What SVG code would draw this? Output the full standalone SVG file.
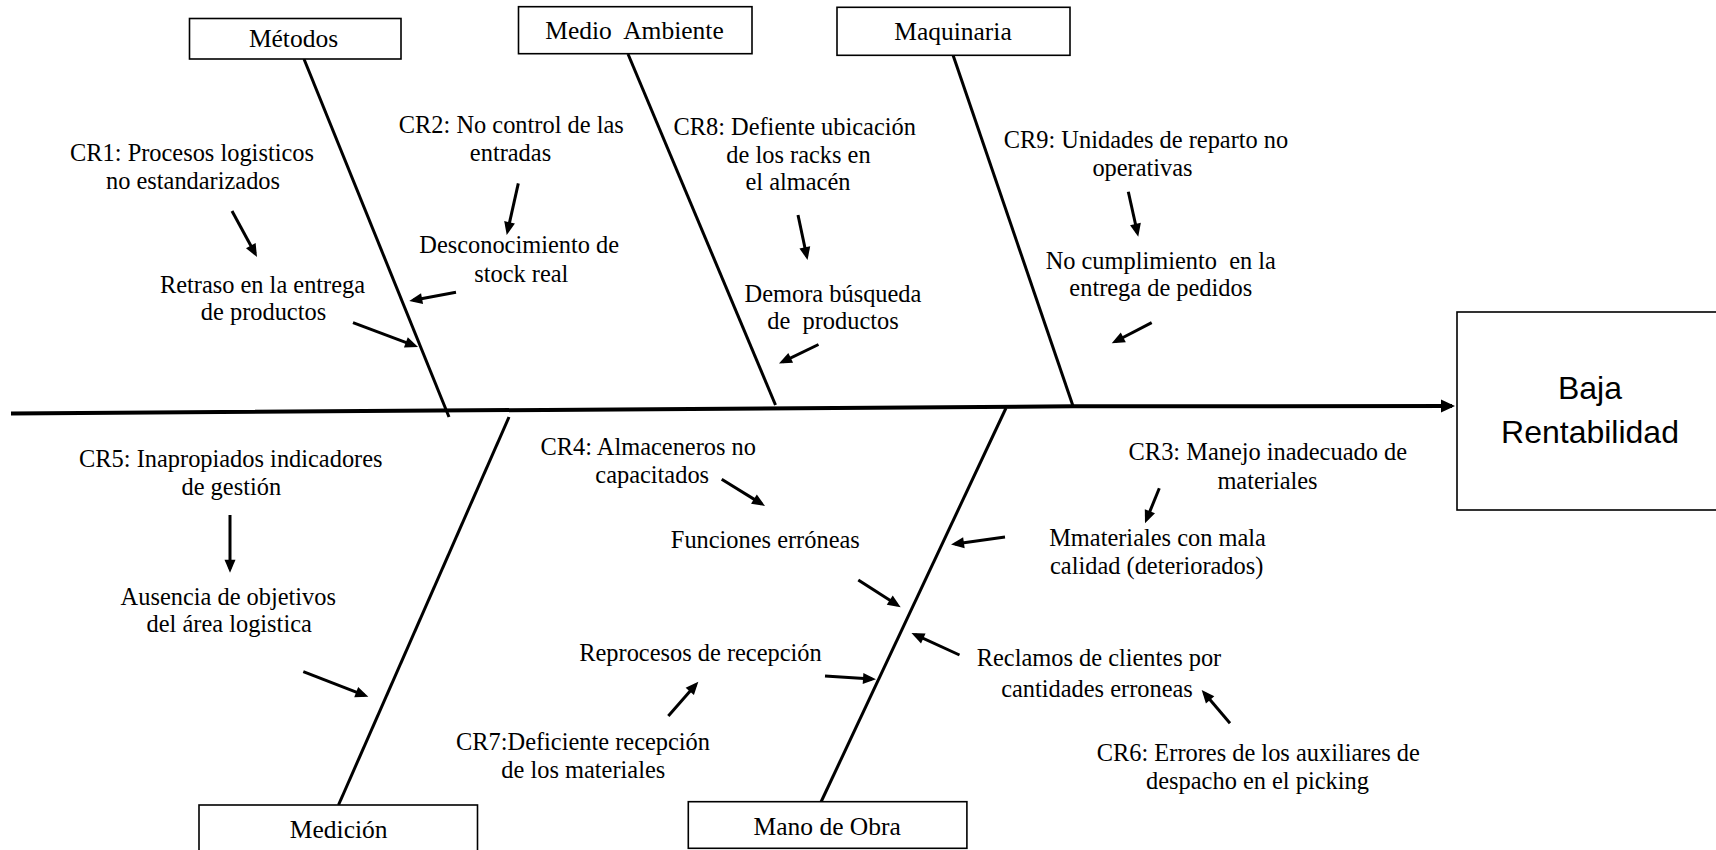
<svg xmlns="http://www.w3.org/2000/svg" width="1716" height="850" viewBox="0 0 1716 850">
<style>
.t{font-family:"Liberation Serif","Times New Roman",serif;font-size:24.4px;fill:#000;text-anchor:middle}
.lb{font-family:"Liberation Serif","Times New Roman",serif;font-size:25.5px;fill:#000;text-anchor:middle}
.eff{font-family:"Liberation Sans",Arial,sans-serif;font-size:32px;fill:#000;text-anchor:middle}
.box{fill:#fff;stroke:#000;stroke-width:1.6}
.bone{fill:none;stroke:#000;stroke-width:3}
.spine{fill:none;stroke:#000;stroke-width:4}
.arr{fill:none;stroke:#000;stroke-width:3;marker-end:url(#ah)}
</style>
<defs>
<marker id="ah" markerUnits="userSpaceOnUse" markerWidth="13" markerHeight="11" refX="9" refY="5.5" orient="auto" overflow="visible">
<path d="M0,0 L13,5.5 L0,11 z" fill="#000"/>
</marker>
<marker id="ahm" markerUnits="userSpaceOnUse" markerWidth="14" markerHeight="13" refX="11" refY="6.5" orient="auto" overflow="visible">
<path d="M0,0 L14,6.5 L0,13 z" fill="#000"/>
</marker>
</defs>
<rect width="1716" height="850" fill="#fff"/>

<g id="connectors">
<polyline class="spine" points="11,413.5 1073,406.3 1452,406" marker-end="url(#ahm)"/>
<line class="bone" x1="304" y1="59" x2="449" y2="417"/>
<line class="bone" x1="628" y1="54" x2="775.5" y2="405"/>
<line class="bone" x1="953" y1="55" x2="1073" y2="406"/>
<line class="bone" x1="509" y1="417" x2="338.5" y2="805"/>
<line class="bone" x1="1006" y1="408" x2="821" y2="802"/>
<line class="arr" x1="232" y1="211" x2="255.1" y2="253.5"/>
<line class="arr" x1="353" y1="322.7" x2="414.3" y2="345.6"/>
<line class="arr" x1="518.3" y1="183.3" x2="507.6" y2="231.1"/>
<line class="arr" x1="456" y1="292.3" x2="413.2" y2="300.3"/>
<line class="arr" x1="798" y1="215" x2="806.7" y2="256.1"/>
<line class="arr" x1="818.5" y1="344.5" x2="782.6" y2="361.8"/>
<line class="arr" x1="1128.3" y1="191.7" x2="1137.4" y2="232.8"/>
<line class="arr" x1="1151.7" y1="322.7" x2="1115.3" y2="341.5"/>
<line class="arr" x1="230" y1="515" x2="230" y2="568.7"/>
<line class="arr" x1="303.3" y1="671.7" x2="364.6" y2="695.3"/>
<line class="arr" x1="721.7" y1="479.3" x2="761.6" y2="503.9"/>
<line class="arr" x1="858.3" y1="580" x2="897.3" y2="605.1"/>
<line class="arr" x1="668.3" y1="716" x2="695.7" y2="684.7"/>
<line class="arr" x1="825" y1="676" x2="872" y2="679"/>
<line class="arr" x1="1159.3" y1="488.3" x2="1146.5" y2="519.6"/>
<line class="arr" x1="1005" y1="537" x2="955" y2="544"/>
<line class="arr" x1="1230" y1="723.3" x2="1204.3" y2="693"/>
<line class="arr" x1="959.5" y1="655" x2="915.1" y2="634.7"/>
</g>

<g id="effect-baja-rentabilidad">
<rect class="box" x="1457" y="312" width="280" height="198" stroke-width="2"/>
<text class="eff" x="1590" y="399">Baja</text>
<text class="eff" x="1590" y="443">Rentabilidad</text>
</g>

<g id="cat-metodos">
<rect class="box" x="189.5" y="18.5" width="211.5" height="40.5"/>
<text class="lb" x="293.5" y="47">Métodos</text>
</g>
<g id="cat-medio-ambiente">
<rect class="box" x="518.5" y="6.7" width="233.5" height="47"/>
<text class="lb" x="634.5" y="39">Medio&#160; Ambiente</text>
</g>
<g id="cat-maquinaria">
<rect class="box" x="837" y="7.3" width="233" height="48"/>
<text class="lb" x="953" y="40">Maquinaria</text>
</g>
<g id="cat-medicion">
<rect class="box" x="199" y="805" width="278.5" height="60"/>
<text class="lb" x="338.7" y="838">Medición</text>
</g>
<g id="cat-mano-de-obra">
<rect class="box" x="688.3" y="801.7" width="278.6" height="46.6"/>
<text class="lb" x="827.2" y="834.5">Mano de Obra</text>
</g>

<g id="cause-cr1">
<text class="t" x="192" y="161">CR1: Procesos logisticos</text>
<text class="t" x="193" y="188.5">no estandarizados</text>
</g>
<g id="effect-retraso">
<text class="t" x="262.5" y="293">Retraso en la entrega</text>
<text class="t" x="263.5" y="320">de productos</text>
</g>
<g id="cause-cr2">
<text class="t" x="511.3" y="132.7">CR2: No control de las</text>
<text class="t" x="510.5" y="161">entradas</text>
</g>
<g id="effect-desconocimiento">
<text class="t" x="519.2" y="252.7">Desconocimiento de</text>
<text class="t" x="521.3" y="281.7">stock real</text>
</g>
<g id="cause-cr8">
<text class="t" x="794.7" y="135">CR8: Defiente ubicación</text>
<text class="t" x="798.5" y="163">de los racks en</text>
<text class="t" x="798" y="190">el almacén</text>
</g>
<g id="effect-demora">
<text class="t" x="833" y="301.5">Demora búsqueda</text>
<text class="t" x="833" y="328.5">de&#160; productos</text>
</g>
<g id="cause-cr9">
<text class="t" x="1146" y="148.3">CR9: Unidades de reparto no</text>
<text class="t" x="1142.5" y="175.5">operativas</text>
</g>
<g id="effect-no-cumplimiento">
<text class="t" x="1160.8" y="268.5">No cumplimiento&#160; en la</text>
<text class="t" x="1160.8" y="295.5">entrega de pedidos</text>
</g>
<g id="cause-cr5">
<text class="t" x="230.8" y="466.7">CR5: Inapropiados indicadores</text>
<text class="t" x="231.3" y="494.5">de gestión</text>
</g>
<g id="effect-ausencia">
<text class="t" x="228.3" y="605">Ausencia de objetivos</text>
<text class="t" x="229.2" y="632">del área logistica</text>
</g>
<g id="cause-cr4">
<text class="t" x="648.3" y="455">CR4: Almaceneros no</text>
<text class="t" x="652.2" y="483">capacitados</text>
</g>
<g id="effect-funciones">
<text class="t" x="765.3" y="548">Funciones erróneas</text>
</g>
<g id="effect-reprocesos">
<text class="t" x="700.5" y="661">Reprocesos de recepción</text>
</g>
<g id="cause-cr7">
<text class="t" x="583" y="750">CR7:Deficiente recepción</text>
<text class="t" x="583.3" y="777.5">de los materiales</text>
</g>
<g id="cause-cr3">
<text class="t" x="1267.8" y="459.5">CR3: Manejo inadecuado de</text>
<text class="t" x="1267.5" y="488.5">materiales</text>
</g>
<g id="effect-mmateriales">
<text class="t" x="1157.5" y="546">Mmateriales con mala</text>
<text class="t" x="1156.7" y="574">calidad (deteriorados)</text>
</g>
<g id="effect-reclamos">
<text class="t" x="1099" y="666">Reclamos de clientes por</text>
<text class="t" x="1097" y="696.5">cantidades erroneas</text>
</g>
<g id="cause-cr6">
<text class="t" x="1258.3" y="761">CR6: Errores de los auxiliares de</text>
<text class="t" x="1257.5" y="789">despacho en el picking</text>
</g>
</svg>
